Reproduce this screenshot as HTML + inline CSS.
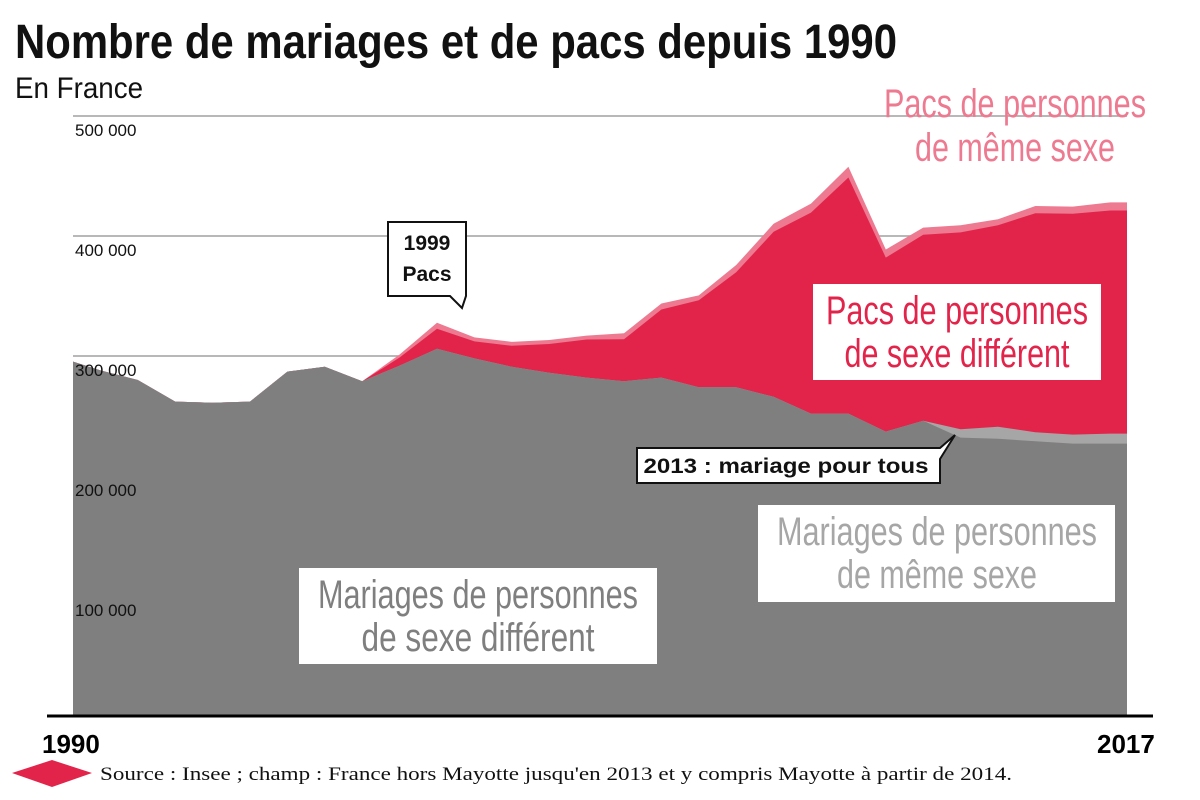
<!DOCTYPE html>
<html><head><meta charset="utf-8"><style>
html,body{margin:0;padding:0;background:#fff;}
svg{display:block;font-family:"Liberation Sans",sans-serif;}
</style></head><body>
<svg id="chart" width="1200" height="800" viewBox="0 0 1200 800">
  <defs><clipPath id="plotclip"><rect x="73" y="0" width="1054" height="716"/></clipPath></defs>
  <text x="15" y="58" font-size="48" font-weight="bold" textLength="882" lengthAdjust="spacingAndGlyphs" fill="#111">Nombre de mariages et de pacs depuis 1990</text>
  <text x="15" y="98" font-size="30" textLength="128" lengthAdjust="spacingAndGlyphs" fill="#111">En France</text>
  <g id="grid"></g>
  <g id="areas" clip-path="url(#plotclip)"></g>
  <g id="ticks"></g>
  <line x1="47" y1="716" x2="1153" y2="716" stroke="#000" stroke-width="3"/>
  <text x="42" y="753" font-size="26" font-weight="bold" fill="#000">1990</text>
  <text x="1097" y="753" font-size="26" font-weight="bold" fill="#000">2017</text>

  <text x="1015" y="117" text-anchor="middle" font-size="40" textLength="262" lengthAdjust="spacingAndGlyphs" fill="#ed7a90">Pacs de personnes</text>
  <text x="1015" y="161" text-anchor="middle" font-size="40" textLength="200" lengthAdjust="spacingAndGlyphs" fill="#ed7a90">de même sexe</text>

  <g>
    <rect x="813" y="284" width="288" height="96" fill="#fff"/>
    <text x="957" y="324" text-anchor="middle" font-size="40" textLength="262" lengthAdjust="spacingAndGlyphs" fill="#e2244b">Pacs de personnes</text>
    <text x="957" y="367" text-anchor="middle" font-size="40" textLength="225" lengthAdjust="spacingAndGlyphs" fill="#e2244b">de sexe différent</text>
  </g>
  <g>
    <rect x="758" y="505" width="357" height="97" fill="#fff"/>
    <text x="937" y="545" text-anchor="middle" font-size="40" textLength="320" lengthAdjust="spacingAndGlyphs" fill="#a6a6a6">Mariages de personnes</text>
    <text x="937" y="588" text-anchor="middle" font-size="40" textLength="200" lengthAdjust="spacingAndGlyphs" fill="#a6a6a6">de même sexe</text>
  </g>
  <g>
    <rect x="299" y="568" width="358" height="96" fill="#fff"/>
    <text x="478" y="608" text-anchor="middle" font-size="40" textLength="320" lengthAdjust="spacingAndGlyphs" fill="#7f7f7f">Mariages de personnes</text>
    <text x="478" y="651" text-anchor="middle" font-size="40" textLength="233" lengthAdjust="spacingAndGlyphs" fill="#7f7f7f">de sexe différent</text>
  </g>

  <g>
    <path d="M388,222 H466 V296 L462,308 L450,296 H388 Z" fill="#fff" stroke="#111" stroke-width="2"/>
    <text x="427" y="250" text-anchor="middle" font-size="21" font-weight="bold" fill="#111">1999</text>
    <text x="427" y="281" text-anchor="middle" font-size="21" font-weight="bold" fill="#111">Pacs</text>
  </g>
  <g>
    <path d="M637,448 H940 L955,435 L940,459 V483 H637 Z" fill="#fff" stroke="#111" stroke-width="2"/>
    <text x="786" y="473" text-anchor="middle" font-size="21" font-weight="bold" textLength="285" lengthAdjust="spacingAndGlyphs" fill="#111">2013 : mariage pour tous</text>
  </g>

  <path d="M12,773 L52,760 L92,773 L52,787 Z" fill="#e2244b"/>
  <text x="100" y="780" font-family="Liberation Serif, serif" font-size="19" textLength="912" lengthAdjust="spacingAndGlyphs" fill="#111">Source : Insee ; champ : France hors Mayotte jusqu'en 2013 et y compris Mayotte à partir de 2014.</text>
</svg>
<script>
const years = [1990,1991,1992,1993,1994,1995,1996,1997,1998,1999,2000,2001,2002,2003,2004,2005,2006,2007,2008,2009,2010,2011,2012,2013,2014,2015,2016,2017,2018];
const marriagesDiffSex = [298000,288000,280000,262000,261000,262000,287000,291000,279000,292000,306000,298000,291000,286000,282000,279000,282000,274000,274000,266000,252000,252000,237000,246000,232000,231000,229000,227000,227000];
const marriagesSameSex = [0,0,0,0,0,0,0,0,0,0,0,0,0,0,0,0,0,0,0,0,0,0,0,0,7000,10000,7500,7500,8300];
const pacsDiffSex = [0,0,0,0,0,0,0,0,0,6700,16700,14200,17500,24000,31700,35000,56700,72500,95800,137500,167500,196700,145000,155000,164000,168000,182500,184000,186000];
const pacsSameSex = [0,0,0,0,0,0,0,0,0,2500,5000,3300,3300,3300,3300,5000,5000,4000,6000,6700,7500,9000,6700,6000,6000,5000,6000,6000,6700];
const yTicks = [100000,200000,300000,400000,500000];
const yTickLabels = ['100 000','200 000','300 000','400 000','500 000'];

const NS='http://www.w3.org/2000/svg';
const xPos = i => 63 + i*37.4;
const yPos = v => 716 - v*0.0012;

const grid=document.getElementById('grid'), ticks=document.getElementById('ticks'), areas=document.getElementById('areas');
yTicks.forEach((t,i)=>{
  const l=document.createElementNS(NS,'line');
  l.setAttribute('x1',73);l.setAttribute('x2',1127);l.setAttribute('y1',yPos(t));l.setAttribute('y2',yPos(t));
  l.setAttribute('stroke','#a0a0a0');l.setAttribute('stroke-width','1.5');
  
  
  grid.appendChild(l);
  const tx=document.createElementNS(NS,'text');
  tx.setAttribute('x',75);tx.setAttribute('y',yPos(t)+20);tx.setAttribute('font-size','17');tx.setAttribute('fill','#111');
  tx.textContent=yTickLabels[i];
  
  
  ticks.appendChild(tx);
});

const series=[marriagesDiffSex,marriagesSameSex,pacsDiffSex,pacsSameSex];
const colors=['#7f7f7f','#a6a6a6','#e2244b','#ed7a90'];
const names=['area-marriages-diff-sex','area-marriages-same-sex','area-pacs-diff-sex','area-pacs-same-sex'];
let base=years.map(()=>0);
const layers=[];
series.forEach((s,k)=>{
  const top=base.map((b,i)=>b+s[i]);
  layers.push({top:top,bot:base.slice()});
  base=top;
});
for(let k=layers.length-1;k>=0;k--){
  const top=layers[k].top;
  let d='M'+xPos(0)+','+yPos(0);
  top.forEach((v,i)=>{d+=' L'+xPos(i)+','+yPos(v);});
  const n=years.length-1;
  d+=' L1130,'+yPos(top[n])+' L1130,'+yPos(0)+' Z';
  const p=document.createElementNS(NS,'path');
  p.setAttribute('d',d);p.setAttribute('fill',colors[k]);
  
  
  areas.appendChild(p);
}
</script>
</body></html>
